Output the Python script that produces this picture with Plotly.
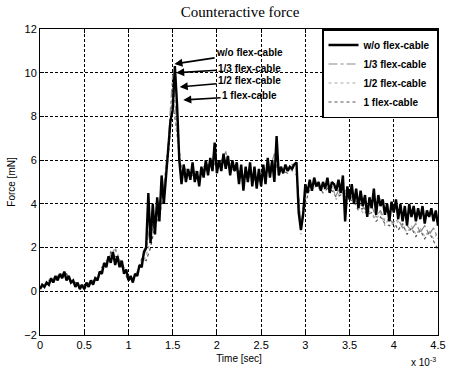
import numpy as np
import plotly.graph_objects as go

# Force [mN] vs time (x 1e-3 sec)
wo_flex = [
    0.1, 0.3, 0.2, 0.4, 0.3, 0.6, 0.4, 0.7, 0.5, 0.8,
    0.6, 0.9, 0.5, 0.7, 0.4, 0.5, 0.2, 0.4, 0.1, 0.3,
    0.1, 0.4, 0.2, 0.5, 0.3, 0.6, 0.5, 0.9, 0.8, 1.3,
    1.1, 1.6, 1.3, 1.8, 1.2, 1.6, 1.1, 1.4, 0.8, 1.0,
    0.5, 0.7, 0.4, 0.8, 0.7, 1.2, 1.1, 1.8, 2.0, 4.5,
    2.2, 4.0, 2.6, 4.3, 3.2, 5.3, 4.0, 5.5, 6.5, 7.8,
    8.3, 10.3, 8.5, 6.0, 4.9, 5.8, 5.0, 5.6, 5.1, 5.9,
    5.0, 5.5, 4.8, 5.7, 5.2, 6.0, 5.3, 6.1, 5.5, 6.8,
    5.4, 6.0, 5.5, 6.3, 5.6, 6.2, 5.3, 6.0, 5.5, 5.9,
    4.9, 5.8, 4.6, 5.7, 5.0, 5.9, 4.8, 5.7, 4.7, 5.6,
    4.8, 5.8, 4.9, 6.1, 5.2, 6.0, 5.0, 7.1, 5.3, 5.7,
    5.4, 5.8, 5.5, 5.7, 5.6, 5.8, 5.9, 3.6, 2.8, 3.5,
    4.9, 4.5, 5.1, 4.6, 5.2, 4.8, 5.0, 4.6, 5.0, 4.7,
    5.2, 4.5, 5.0, 4.9, 4.6, 5.1, 4.5, 5.3, 3.2, 4.8,
    4.2, 4.9, 4.0, 4.7, 3.8, 4.6, 3.9, 4.4, 3.4, 4.3,
    3.8, 4.7, 3.5, 4.4, 3.9, 4.2, 3.5, 4.0, 3.2, 4.1,
    3.6, 4.2, 3.3, 4.0, 3.2, 3.9, 3.0, 4.0, 3.4, 3.9,
    3.2, 3.8, 3.3, 3.9, 3.1, 3.7, 3.4, 3.8, 3.2, 3.7,
    3.0,
]
flex_13 = [
    0.2, 0.3, 0.4, 0.5, 0.6, 0.8, 0.6, 0.5, 0.3, 0.2,
    0.3, 0.3, 0.4, 0.7, 0.9, 1.3, 1.7, 1.9, 1.4, 1.1,
    0.6, 0.6, 0.9, 1.4, 1.9, 3.2, 2.8, 4.0, 4.8, 6.8,
    9.9, 7.5, 5.3, 5.6, 5.2, 5.4, 5.2, 5.6, 5.5, 5.9,
    5.7, 5.8, 6.4, 5.6, 5.7, 5.3, 5.2, 5.4, 5.2, 5.0,
    5.1, 5.4, 5.6, 6.3, 5.4, 5.6, 5.6, 5.7, 5.5, 3.0,
    4.6, 4.8, 4.9, 4.7, 4.8, 4.9, 4.7, 4.4, 4.8, 4.5,
    4.4, 4.2, 4.0, 3.9, 3.6, 3.9, 3.4, 3.7, 3.2, 3.3,
    3.1, 3.3, 2.9, 3.0, 2.8, 3.1, 2.7, 3.0, 2.6, 2.9,
    2.4,
]
flex_12 = [
    0.1, 0.3, 0.3, 0.6, 0.6, 0.7, 0.7, 0.4, 0.3, 0.2,
    0.2, 0.4, 0.4, 0.6, 1.0, 1.4, 1.6, 2.0, 1.5, 1.0,
    0.7, 0.5, 0.9, 1.3, 1.6, 2.4, 3.5, 3.7, 4.6, 6.5,
    9.3, 7.0, 5.5, 5.4, 5.3, 5.5, 5.4, 5.7, 5.6, 5.8,
    5.9, 5.7, 6.2, 5.8, 5.6, 5.4, 5.1, 5.5, 5.0, 5.2,
    4.9, 5.5, 5.4, 6.0, 5.5, 5.4, 5.7, 5.5, 5.3, 2.6,
    4.3, 4.9, 4.7, 5.0, 4.6, 4.8, 4.9, 4.2, 4.6, 4.3,
    4.5, 4.0, 3.9, 3.6, 3.8, 3.5, 3.3, 3.6, 3.0, 3.4,
    2.9, 3.2, 3.0, 2.7, 3.0, 2.6, 2.9, 2.5, 2.8, 2.4,
    2.7,
]
flex_1 = [
    0.2, 0.2, 0.5, 0.4, 0.7, 0.6, 0.8, 0.5, 0.4, 0.3,
    0.1, 0.3, 0.5, 0.5, 1.1, 1.2, 1.8, 1.6, 1.3, 0.9,
    0.5, 0.6, 0.8, 1.5, 1.4, 2.0, 3.0, 3.5, 4.4, 6.2,
    8.7, 7.2, 5.6, 5.2, 5.5, 5.3, 5.5, 5.4, 5.8, 5.6,
    5.7, 6.0, 6.0, 5.7, 5.5, 5.5, 5.3, 5.2, 5.3, 4.9,
    5.3, 5.2, 5.7, 5.8, 5.6, 5.5, 5.4, 5.8, 5.6, 2.9,
    4.0, 4.7, 5.0, 4.8, 4.5, 4.7, 4.6, 4.3, 4.4, 4.6,
    4.2, 4.1, 3.7, 3.8, 3.5, 3.6, 3.2, 3.4, 3.1, 3.0,
    3.2, 2.8, 3.1, 2.6, 2.9, 2.5, 2.8, 2.4, 2.7, 2.3,
    1.9,
]

t_fine = np.linspace(0, 4.5, len(wo_flex))
t_coarse = np.linspace(0, 4.5, len(flex_13))

x_ticks = [0, 0.5, 1, 1.5, 2, 2.5, 3, 3.5, 4, 4.5]
x_tick_labels = ["0", "0.5", "1", "1.5", "2", "2.5", "3", "3.5", "4", "4.5"]
y_ticks = [-2, 0, 2, 4, 6, 8, 10, 12]

series_names = ["w/o flex-cable", "1/3 flex-cable", "1/2 flex-cable", "1 flex-cable"]

fig = go.Figure()
fig.add_trace(go.Scatter(x=t_coarse, y=flex_1, mode="lines", name=series_names[3],
                         line=dict(color="#555555", width=1.2, dash="dot"), legendrank=4))
fig.add_trace(go.Scatter(x=t_coarse, y=flex_12, mode="lines", name=series_names[2],
                         line=dict(color="#aaaaaa", width=1.2, dash="dot"), legendrank=3))
fig.add_trace(go.Scatter(x=t_coarse, y=flex_13, mode="lines", name=series_names[1],
                         line=dict(color="#888888", width=1.2, dash="dashdot"), legendrank=2))
fig.add_trace(go.Scatter(x=t_fine, y=wo_flex, mode="lines", name=series_names[0],
                         line=dict(color="black", width=2.4), legendrank=1))

# arrow annotations
arrow_targets = [(1.52, 10.4), (1.54, 10.0), (1.58, 9.35), (1.62, 8.75)]
text_pos = [(2.37, 10.92), (2.37, 10.2), (2.37, 9.63), (2.37, 8.94)]
for name, (hx, hy), (tx, ty) in zip(series_names, arrow_targets, text_pos):
    fig.add_annotation(x=hx, y=hy, ax=tx, ay=ty, axref="x", ayref="y", xref="x", yref="y",
                       text=name, showarrow=True, arrowhead=2, arrowsize=1, arrowwidth=1.6,
                       arrowcolor="black",
                       font=dict(family="Liberation Sans", size=10, color="black", weight="bold"),
                       standoff=0, startstandoff=0)

fig.add_annotation(x=1.0, y=-0.116, xref="paper", yref="paper", xanchor="right", yanchor="bottom",
                   text="x 10<sup>-3</sup>", showarrow=False,
                   font=dict(family="Liberation Sans", size=10, color="black"))

axis_common = dict(showline=True, linecolor="black", linewidth=1, mirror="ticks",
                   ticks="inside", ticklen=4, tickcolor="black",
                   showgrid=True, gridcolor="black", gridwidth=1, griddash="3px,2px",
                   zeroline=False, ticklabeloverflow="allow",
                   tickfont=dict(family="Liberation Sans", size=11, color="black"))

fig.update_layout(
    width=453, height=370,
    margin=dict(l=40, r=7, t=29, b=35),
    paper_bgcolor="white", plot_bgcolor="white",
    title=dict(text="Counteractive force", x=0.53, xanchor="center", y=0.968, yanchor="middle",
               font=dict(family="Liberation Serif", size=15, color="black")),
    xaxis=dict(range=[0, 4.5], tickvals=x_ticks, ticktext=x_tick_labels,
               title=dict(text="Time [sec]", standoff=4,
                          font=dict(family="Liberation Sans", size=10, color="black")),
               **axis_common),
    yaxis=dict(range=[-2, 12], tickvals=y_ticks,
               title=dict(text="Force [mN]", standoff=6,
                          font=dict(family="Liberation Sans", size=10, color="black")),
               **axis_common),
    legend=dict(x=1, y=1, xanchor="right", yanchor="top", bgcolor="white",
                bordercolor="black", borderwidth=1.5,
                font=dict(family="Liberation Sans", size=10, color="black", weight="bold"),
                tracegroupgap=0, itemwidth=30),
    showlegend=True,
)

fig.write_html("out.html")
